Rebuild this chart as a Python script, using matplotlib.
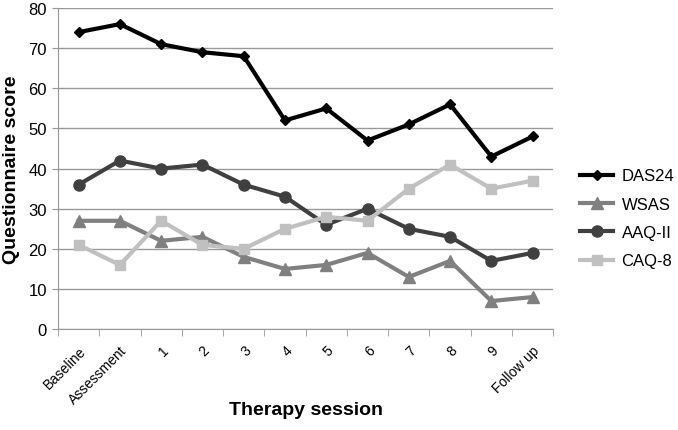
import matplotlib
matplotlib.use("Agg")
import matplotlib.pyplot as plt
import numpy as np

# Data
sessions = ["Baseline", "Assessment", "1", "2", "3", "4", "5", "6", "7", "8", "9", "Follow up"]
das24 = [74, 76, 71, 69, 68, 52, 55, 47, 51, 56, 43, 48]
wsas = [27, 27, 22, 23, 18, 15, 16, 19, 13, 17, 7, 8]
aaq2 = [36, 42, 40, 41, 36, 33, 26, 30, 25, 23, 17, 19]
caq8 = [21, 16, 27, 21, 20, 25, 28, 27, 35, 41, 35, 37]

plt.rcParams["font.family"] = ["Liberation Sans", "DejaVu Sans"]

fig = plt.figure(figsize=(6.78, 4.31), dpi=100)
ax = fig.add_axes([0.0855, 0.234, 0.816 - 0.0855, 0.979 - 0.234])

x = np.arange(len(sessions))
ax.plot(x, das24, color="black", lw=3, marker="D", ms=5, label="DAS24")
ax.plot(x, wsas, color="#808080", lw=3, marker="^", ms=8, label="WSAS")
ax.plot(x, aaq2, color="#404040", lw=3, marker="o", ms=8, label="AAQ-II")
ax.plot(x, caq8, color="#c0c0c0", lw=3, marker="s", ms=7, label="CAQ-8")

ax.set_xlim(-0.5, len(sessions) - 0.5)
ax.set_ylim(0, 80)
ax.set_yticks(range(0, 81, 10))
ax.tick_params(axis="y", labelsize=12, length=4, color="#999999", pad=4)
ax.set_xticks(x)
ax.set_xticklabels(sessions, rotation=45, ha="right", rotation_mode="anchor", fontsize=10)
ax.tick_params(axis="x", length=0, pad=10)
ax.set_xticks(np.arange(-0.5, len(sessions)), minor=True)
ax.tick_params(axis="x", which="minor", length=5, color="#999999")

ax.yaxis.grid(True, color="#999999", lw=1)
ax.set_axisbelow(True)
for side in ["top", "right"]:
    ax.spines[side].set_visible(False)
for side in ["left", "bottom"]:
    ax.spines[side].set_color("#999999")

ax.set_ylabel("Questionnaire score", fontsize=14, fontweight="bold", labelpad=6)
ax.set_xlabel("Therapy session", fontsize=14, fontweight="bold")
ax.xaxis.set_label_coords(0.5, -0.225)

ax.legend(loc="center left", bbox_to_anchor=(1.0, 0.345), frameon=False,
          fontsize=12, handlelength=2.0, handletextpad=0.5, labelspacing=0.8,
          borderaxespad=1.2)

fig.savefig("out.png", dpi=100)
